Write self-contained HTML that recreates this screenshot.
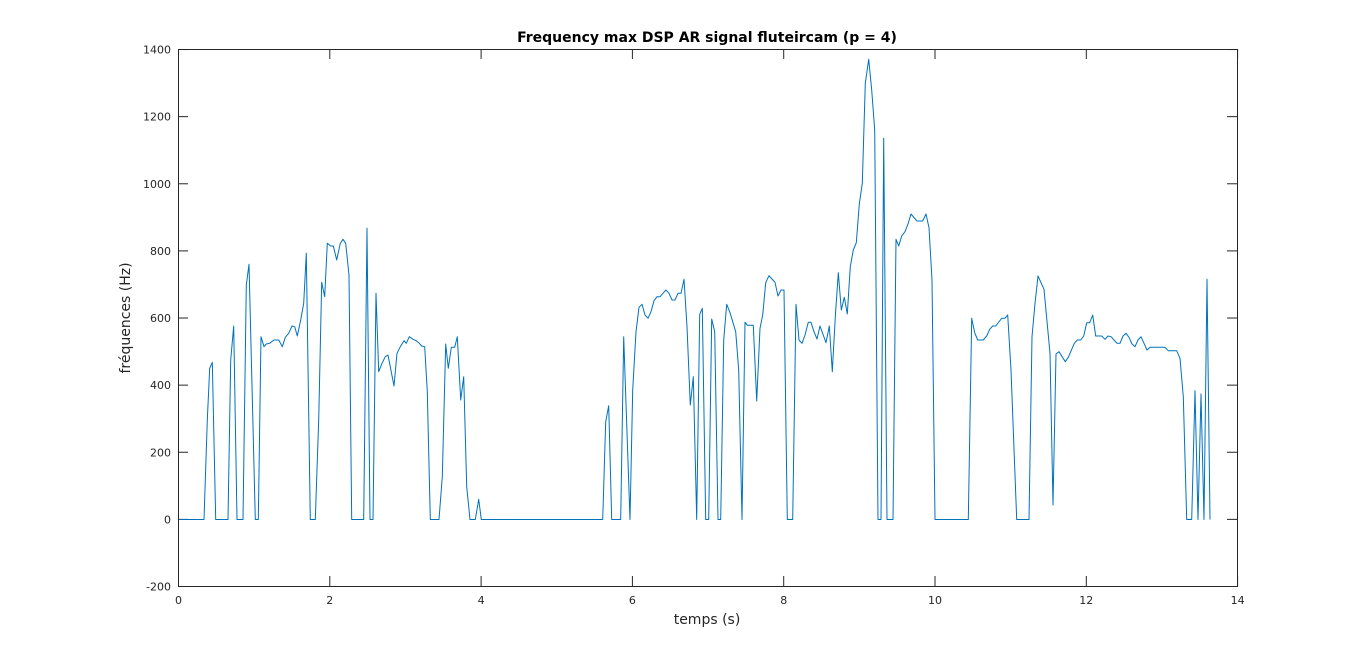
<!DOCTYPE html>
<html><head><meta charset="utf-8"><style>
html,body{margin:0;padding:0;background:#fff;}
svg{display:block;font-family:"DejaVu Sans","Liberation Sans",sans-serif;}
</style></head><body>
<svg id="s" width="1366" height="658" xmlns="http://www.w3.org/2000/svg">
<rect width="1366" height="658" fill="#fff"/>
<g id="ticks" stroke="#262626" stroke-width="1"></g>
<g id="lab" font-size="11" fill="#262626"></g>
<polyline id="pl" fill="none" stroke="#0072BD" stroke-width="1" stroke-linejoin="round"/>
<rect x="178.5" y="49.5" width="1059" height="537" fill="none" stroke="#262626" stroke-width="1"/>
<text x="707" y="42" text-anchor="middle" font-size="14" font-weight="bold" fill="#000">Frequency max DSP AR signal fluteircam (p = 4)</text>
<text x="707" y="624" text-anchor="middle" font-size="14" fill="#262626">temps (s)</text>
<text transform="translate(130,318) rotate(-90)" text-anchor="middle" font-size="14" fill="#262626">fréquences (Hz)</text>
</svg>
<script>
var z1=[[0,900],[78,900],[88,600],[95,445],[103,427],[113,900],[150,900],[158,420],[167,318],[177,900],[195,900],[205,195],[213,133],[232,900],[241,900],[249,350],[258,380],[265,372],[275,370],[288,360],[302,360],[313,380],[322,352],[332,340],[342,318],[350,320],[358,348],[368,300],[377,250],[385,100],[397,900],[412,900],[422,600],[431,187],[440,230],[448,70],[458,78],[466,78],[476,120],[487,70],[495,58],[503,70],[513,165],[521,900],[557,900],[567,25],[576,900],[585,900],[594,220],[602,455],[612,430],[622,410],[630,405],[648,498],[657,400],[667,380],[678,362],[685,370],[694,350],[705,358],[715,362],[724,370],[731,378],[740,380],[748,515],[757,900],[783,900],[793,770],[803,372],[811,445],[820,382],[830,382],[838,350],[848,540],[857,470],[866,800],[876,900],[892,900],[902,838],[910,900],[960,900]];
var z2=[[38,780],[47,485],[56,437],[65,780],[92,780],[101,230],[120,780],[128,390],[138,215],[147,142],[156,133],[165,165],[174,175],[183,155],[192,122],[201,110],[210,110],[219,100],[228,90],[237,100],[246,120],[255,120],[264,100],[273,100],[282,58],[291,200],[301,435],[310,350],[320,780],[329,163],[337,145],[347,780],[356,780],[365,177],[374,215],[384,780],[392,780],[401,240],[410,133],[419,155],[428,185],[437,215],[446,330],[456,780],[465,187],[472,196],[490,196],[500,423],[510,205],[518,165],[527,68],[537,47],[546,57],[555,67],[564,108],[573,90],[582,90],[592,780],[608,780],[618,133],[627,240],[636,250],[645,225],[655,187],[663,187],[672,215],[681,237]];
var z3=[[0,828],[18,878],[28,828],[37,965],[46,800],[55,668],[64,780],[73,742],[82,792],[91,650],[100,600],[109,578],[118,462],[127,400],[136,100],[146,28],[155,120],[164,240],[174,1410],[183,1410],[191,265],[201,1410],[219,1410],[228,568],[236,588],[245,558],[255,545],[264,522],[273,492],[291,513],[308,513],[318,492],[327,533],[336,690],[345,1410],[445,1410],[455,805],[464,848],[473,870],[490,870],[500,858],[509,838],[518,828],[527,828],[545,805],[555,805],[563,795],[573,960],[590,1410],[627,1410],[636,860],[645,760],[654,678],[672,718],[690,910],[699,1365],[708,912],[717,905],[736,935],[745,922],[763,880],[772,870],[782,870],[791,858],[800,818],[809,818],[818,795],[827,858],[845,858],[855,868],[864,858],[873,860],[882,870],[891,880],[900,880],[909,858],[918,850],[927,862],[936,882],[945,890],[954,870],[963,860],[972,880],[981,900],[990,892],[1035,892],[1045,902],[1070,902],[1080,925],[1090,1040],[1100,1410],[1115,1410],[1125,1022],[1134,1410],[1143,1032],[1152,1410],[1161,688],[1170,1410]];
var pts=[];
z1.forEach(p=>pts.push([178+p[0]/3,220+p[1]/3]));
z2.forEach(p=>pts.push([590+p[0]/3,260+p[1]/3]));
z3.forEach(p=>pts.push([820+p[0]/3,50+p[1]/3]));
document.getElementById('pl').setAttribute('points',pts.map(p=>p[0].toFixed(1)+','+(p[1]>518?519.5:p[1]).toFixed(1)).join(' '));
var t='',l='';
for(var i=0;i<=7;i++){var x=178.5+i*151.3;t+=`<line x1="${x}" y1="586" x2="${x}" y2="576"/><line x1="${x}" y1="49" x2="${x}" y2="59"/>`;l+=`<text x="${x}" y="604" text-anchor="middle">${i*2}</text>`;}
for(var j=0;j<=8;j++){var y=586.5-j*67.12;t+=`<line x1="178" y1="${y}" x2="188" y2="${y}"/><line x1="1237" y1="${y}" x2="1227" y2="${y}"/>`;l+=`<text x="171" y="${y+4}" text-anchor="end">${-200+j*200}</text>`;}
document.getElementById('ticks').innerHTML=t;document.getElementById('lab').innerHTML=l;
</script>
</body></html>
